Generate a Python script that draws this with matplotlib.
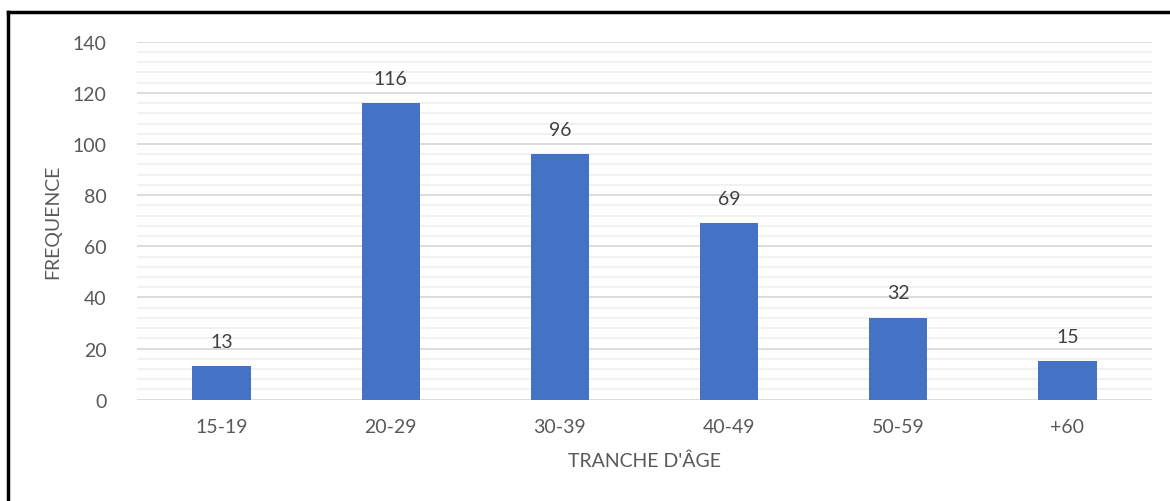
import numpy as np
import matplotlib.pyplot as plt
from matplotlib.lines import Line2D

# Age bracket frequencies
categories = ["15-19", "20-29", "30-39", "40-49", "50-59", "+60"]
values = [13, 116, 96, 69, 32, 15]
y_ticks = [0, 20, 40, 60, 80, 100, 120, 140]

plt.rcParams['font.family'] = ['Lato', 'DejaVu Sans']
text_color = "#595959"

fig = plt.figure(figsize=(11.7, 5.02), dpi=100)
ax = fig.add_axes([137 / 1170, 1 - 400.7 / 502, (1152 - 137) / 1170, (400.7 - 42.7) / 502])

x = np.arange(len(categories))
bars = ax.bar(x, values, width=0.345, color="#4472C4", zorder=3)

for b, v in zip(bars, values):
    ax.annotate(str(v), (b.get_x() + b.get_width() / 2, v), xytext=(0, 18),
                textcoords="offset points", ha="center", va="center",
                fontsize=14, color="#404040")

ax.set_xlim(-0.5, len(categories) - 0.5)
ax.set_ylim(0, 140)
ax.set_yticks(y_ticks)
ax.set_yticks(np.arange(0, 141, 4), minor=True)
ax.grid(axis="y", which="major", color="#d9d9d9", linewidth=1.3, zorder=0)
ax.grid(axis="y", which="minor", color="#f0f0f0", linewidth=1.3, zorder=0)
ax.set_xticks(x)
ax.set_xticklabels(categories)
ax.tick_params(axis="both", which="both", length=0, labelsize=14, colors=text_color)
ax.tick_params(axis="x", pad=13)
ax.tick_params(axis="y", pad=22)
for s in ax.spines.values():
    s.set_visible(False)

ax.set_xlabel("TRANCHE D'ÂGE", fontsize=14, color=text_color, labelpad=12)
ax.set_ylabel("FREQUENCE", fontsize=14, color=text_color, labelpad=8)

# black frame edges of the cropped screenshot
fig.add_artist(Line2D([8 / 1170, 1], [1 - 13 / 502, 1 - 13 / 502], color="black", linewidth=2.5,
                      transform=fig.transFigure))
fig.add_artist(Line2D([8 / 1170, 8 / 1170], [0, 1 - 13 / 502], color="black", linewidth=2.5,
                      transform=fig.transFigure))

plt.savefig("out.png")
